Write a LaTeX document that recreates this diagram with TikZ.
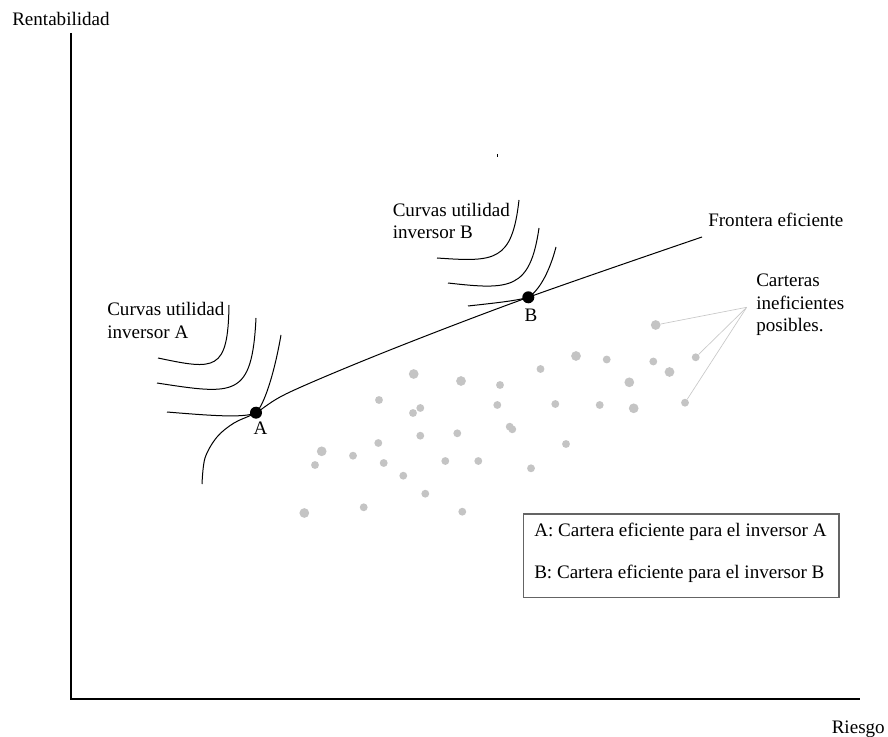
\documentclass[tikz,border=0pt]{standalone}
\usepackage{fontspec}
\setmainfont{Liberation Serif}
\definecolor{dotgray}{RGB}{196,196,196}
\definecolor{ptrgray}{RGB}{200,200,200}
\definecolor{boxgray}{RGB}{100,100,100}
\tikzset{
  lbl/.style={anchor=base west, inner sep=0pt, font=\fontsize{14.3}{17}\selectfont},
  clbl/.style={anchor=base, inner sep=0pt, font=\fontsize{14.3}{17}\selectfont},
  sdot/.style={circle, fill=dotgray, inner sep=0pt, minimum size=5.9pt},
  ldot/.style={circle, fill=dotgray, inner sep=0pt, minimum size=7.3pt},
  bdot/.style={circle, fill=black, inner sep=0pt, minimum size=9pt},
  curve/.style={line width=0.75pt},
  axis/.style={line width=1pt},
  ptr/.style={draw=ptrgray, line width=0.5pt}
}
\begin{document}
\begin{tikzpicture}[x=0.75pt,y=-0.75pt]
\useasboundingbox (0,0) rectangle (888,737);
% axes
\coordinate (ytop) at (71,33);
\coordinate (orig) at (71,699);
\coordinate (xend) at (860,699);
\draw[axis] (ytop) -- (orig) -- (xend);
\node[lbl] (rent) at (12,26) {Rentabilidad};
\node[lbl] (ries) at (831.5,733) {Riesgo};
% stray speck
\fill (496.6,154.5) rectangle (497.6,157.5);
% inefficient portfolios
\foreach \n/\x/\y in {l1/413.7/374, l2/461/381, l3/576/356, l4/321.7/451.3, l5/304.3/513,
  l6/655.7/325, l7/669.5/372, l8/629.3/382.3, l9/633.7/408.3}
  \node[ldot] (\n) at (\x,\y) {};
\foreach \n/\x/\y in {s1/500/385, s2/540.5/369, s3/606.7/359.5, s4/653.3/361.5, s5/695.7/357.3,
  s6/379/400, s7/420.3/408, s8/413/413, s9/497.3/405, s10/555.3/404, s11/599.7/405,
  s12/685/402.7, s13/420.3/435.7, s14/457.3/433.3, s15/378.3/443, s16/315/465,
  s17/353/455.7, s18/383.7/463, s19/445.3/461, s20/478.3/461, s21/566/444,
  s22/403.3/475.7, s23/531/468.3, s24/425.3/493.7, s25/363.7/507.3, s26/462.3/511.7,
  s27/509.7/426.7, s28/512.3/429.3}
  \node[sdot] (\n) at (\x,\y) {};
% pointer
\coordinate (pt) at (746.7,307.3);
\draw[ptr] (pt) -- (l6);
\draw[ptr] (pt) -- (s5);
\draw[ptr] (pt) -- (s12);
\node[lbl] (c1) at (756,286.7) {Carteras};
\node[lbl] (c2) at (756,309.5) {ineficientes};
\node[lbl] (c3) at (756,331.7) {posibles.};
% efficient frontier
\draw[curve] plot[smooth, tension=0.55] coordinates {(202,484) (205,458) (217,437) (234,423) (256,412.7) (290,392) (390,350) (528.3,297.3) (702,237)};
\node[lbl] (fe) at (708,226.7) {Frontera eficiente};
% utility curves A
\draw[curve] (158,358) .. controls (215,370) and (228,372) .. (229,305);
\draw[curve] (157,383) .. controls (235,395) and (252,398) .. (256,318);
\draw[curve] (167,412) .. controls (215,416) and (245,418) .. (256,412.7) .. controls (264,405) and (274,375) .. (281,335);
\node[lbl] (ua1) at (107,316) {Curvas utilidad};
\node[lbl] (ua2) at (107,338.3) {inversor A};
% utility curves B
\draw[curve] (437,258) .. controls (495,262) and (512,262) .. (519,200);
\draw[curve] (448,283) .. controls (510,290) and (530,290) .. (539,228);
\draw[curve] (468,306) .. controls (495,303) and (515,301) .. (528.3,297.3) .. controls (540,290) and (550,270) .. (556,247);
\node[lbl] (ub1) at (392.5,216.7) {Curvas utilidad};
\node[lbl] (ub2) at (392.5,238.3) {inversor B};
% efficient points
\node[bdot] (A) at (256,412.7) {};
\node[bdot] (B) at (528.3,297.3) {};
\node[clbl] (Alab) at (260.5,435) {A};
\node[clbl] (Blab) at (531,321.7) {B};
% legend
\draw[draw=boxgray, line width=0.8pt] (523.3,514) rectangle (839,597.3);
\node[lbl] (leg1) at (534,536) {A: Cartera eficiente para el inversor A};
\node[lbl] (leg2) at (534,578.3) {B: Cartera eficiente para el inversor B};
\end{tikzpicture}
\end{document}
